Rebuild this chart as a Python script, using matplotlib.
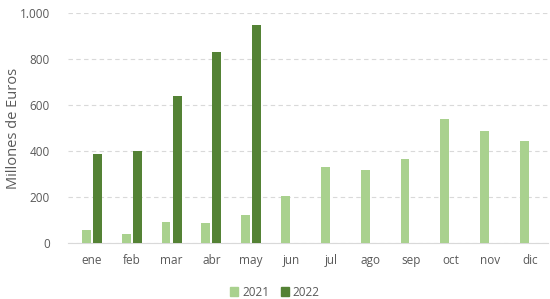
import matplotlib
matplotlib.use("Agg")
import matplotlib.pyplot as plt
import numpy as np
from matplotlib.ticker import FuncFormatter
from matplotlib.patches import Patch

meses = ["ene", "feb", "mar", "abr", "may", "jun", "jul", "ago", "sep", "oct", "nov", "dic"]
valores_2021 = [57, 40, 93, 85, 120, 204, 332, 317, 367, 539, 487, 443]
valores_2022 = [385, 400, 639, 829, 946]

color_2021 = "#A9D18E"
color_2022 = "#548235"
gris = "#595959"

plt.rcParams["font.family"] = ["Open Sans", "DejaVu Sans"]

fig = plt.figure(figsize=(5.5, 2.99), dpi=100)
ax = fig.add_axes([68 / 550, 1 - 243 / 299, (548 - 68) / 550, (243 - 13) / 299])

x = np.arange(len(meses))
ancho = 0.225
ax.bar(x - 0.14, valores_2021, width=ancho, color=color_2021, zorder=3)
x22 = np.arange(len(valores_2022))
ax.bar(x22 + 0.14, valores_2022, width=ancho, color=color_2022, zorder=3)

ax.set_ylim(0, 1000)
ax.set_xlim(-0.6, 11.45)
ax.set_yticks(range(0, 1001, 200))
ax.yaxis.set_major_formatter(FuncFormatter(lambda v, p: f"{int(v):,}".replace(",", ".")))
ax.set_xticks(x)
ax.set_xticklabels(meses)

ax.grid(axis="y", color="#D9D9D9", linestyle=(0, (4, 3)), linewidth=0.8, zorder=0)
for lado in ["top", "right", "left"]:
    ax.spines[lado].set_visible(False)
ax.spines["bottom"].set_color("#D9D9D9")
ax.tick_params(axis="both", length=0, colors=gris, labelsize=8.5)
ax.tick_params(axis="x", pad=8)
ax.tick_params(axis="y", pad=13)

ax.set_ylabel("Millones de Euros", color=gris, fontsize=10.5)
ax.yaxis.set_label_coords(-0.098, 0.5)

handles = [Patch(color=color_2021, label="2021"), Patch(color=color_2022, label="2022")]
fig.legend(handles=handles, loc="center", bbox_to_anchor=(0.5, 1 - 292 / 299), ncol=2,
           frameon=False, fontsize=8.5, handlelength=0.7, handleheight=0.7,
           handletextpad=0.3, columnspacing=1.0, labelcolor=gris)

plt.savefig("out.png", dpi=100)
